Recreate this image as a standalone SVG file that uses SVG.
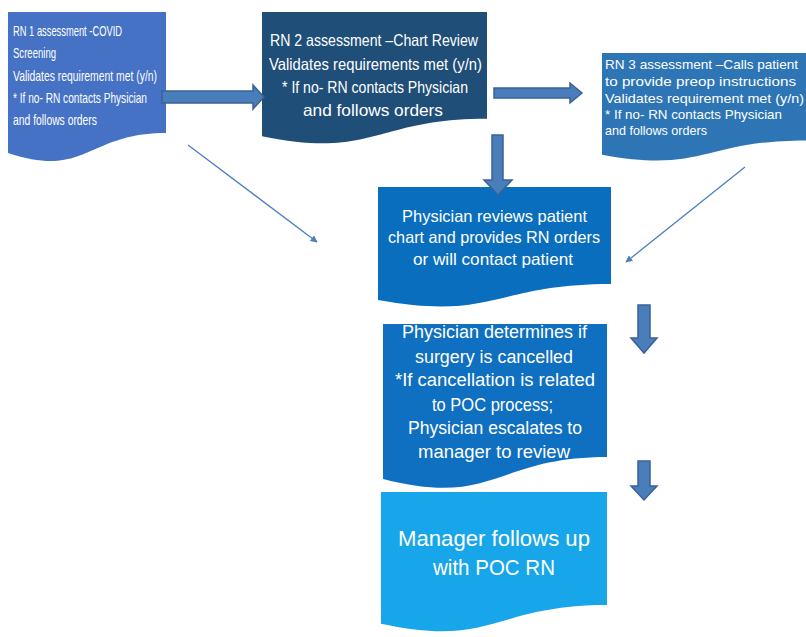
<svg xmlns="http://www.w3.org/2000/svg" width="806" height="637" viewBox="0 0 806 637">
<style>
  .t { font-family: "Liberation Sans", Arial, sans-serif; fill: #ffffff; }
  .c { text-anchor: middle; }
  .blk { fill: #4A7EBB; stroke: #3A6296; stroke-width: 1.5; }
  .thin { stroke: #4A7EBB; stroke-width: 1.3; fill: none; marker-end: url(#ah); }
</style>
<defs>
  <marker id="ah" viewBox="0 0 10 10" refX="9" refY="5" markerWidth="7" markerHeight="7" orient="auto" markerUnits="userSpaceOnUse">
    <path d="M0,0 L10,5 L0,10 z" fill="#4A7EBB"/>
  </marker>
</defs>
<rect width="806" height="637" fill="#ffffff"/>

<g id="node-rn1">
  <path d="M8,12 H166 V133.1 C87,133.1 87,179.2 8,153 Z" fill="#4672C6"/>
  <g class="t" font-size="15">
    <text x="13" y="36" textLength="109" lengthAdjust="spacingAndGlyphs">RN 1 assessment -COVID</text>
    <text x="13" y="58" textLength="43" lengthAdjust="spacingAndGlyphs">Screening</text>
    <text x="13" y="81" textLength="144" lengthAdjust="spacingAndGlyphs">Validates requirement met (y/n)</text>
    <text x="13" y="103" textLength="134" lengthAdjust="spacingAndGlyphs">* If no- RN contacts Physician</text>
    <text x="13" y="125" textLength="84" lengthAdjust="spacingAndGlyphs">and follows orders</text>
  </g>
</g>

<g id="node-rn2">
  <path d="M262,12 H487 V118.7 C374.5,118.7 374.5,159.2 262,136.2 Z" fill="#1F4E79"/>
  <g class="t" font-size="16.5">
    <text x="270" y="46" textLength="208" lengthAdjust="spacingAndGlyphs">RN 2  assessment –Chart Review</text>
    <text x="269" y="70" textLength="213" lengthAdjust="spacingAndGlyphs">Validates requirements met (y/n)</text>
    <text x="282" y="93" textLength="186" lengthAdjust="spacingAndGlyphs">* If no- RN contacts Physician</text>
    <text x="303" y="116" textLength="140" lengthAdjust="spacingAndGlyphs">and follows orders</text>
  </g>
</g>

<g id="node-rn3">
  <path d="M602,53 H806 V140.4 C704,140.4 704,173.7 602,154.8 Z" fill="#2E75B6"/>
  <g class="t" font-size="13.5">
    <text x="605" y="69" textLength="193" lengthAdjust="spacingAndGlyphs">RN 3 assessment –Calls patient</text>
    <text x="605" y="86" textLength="191" lengthAdjust="spacingAndGlyphs">to provide preop instructions</text>
    <text x="605" y="103" textLength="199" lengthAdjust="spacingAndGlyphs">Validates requirement met (y/n)</text>
    <text x="605" y="119" textLength="177" lengthAdjust="spacingAndGlyphs">* If no- RN contacts Physician</text>
    <text x="605" y="135" textLength="102" lengthAdjust="spacingAndGlyphs">and follows orders</text>
  </g>
</g>

<g id="node-physician-review">
  <path d="M378,187 H611 V284 C494.5,284 494.5,321 378,300 Z" fill="#0A6EBF"/>
  <g class="t" font-size="16.5">
    <text x="402" y="222" textLength="185" lengthAdjust="spacingAndGlyphs">Physician reviews patient</text>
    <text x="388" y="243" textLength="212" lengthAdjust="spacingAndGlyphs">chart and provides RN orders</text>
    <text x="413" y="265" textLength="160" lengthAdjust="spacingAndGlyphs">or will contact patient</text>
  </g>
</g>

<g id="node-physician-determines">
  <path d="M383,324 H607 V457.1 C495,457.1 495,507.8 383,479 Z" fill="#0F6FC0"/>
  <g class="t" font-size="18">
    <text x="402" y="338" textLength="185" lengthAdjust="spacingAndGlyphs">Physician determines if</text>
    <text x="415" y="363" textLength="158" lengthAdjust="spacingAndGlyphs">surgery is cancelled</text>
    <text x="395" y="386" textLength="200" lengthAdjust="spacingAndGlyphs">*If cancellation is related</text>
    <text x="432" y="411" textLength="121" lengthAdjust="spacingAndGlyphs">to POC process;</text>
    <text x="408" y="434" textLength="174" lengthAdjust="spacingAndGlyphs">Physician escalates to</text>
    <text x="418" y="458" textLength="152" lengthAdjust="spacingAndGlyphs">manager to review</text>
  </g>
</g>

<g id="node-manager">
  <path d="M381,492 H607 V605.1 C494,605.1 494,648.1 381,623.7 Z" fill="#18A6EA"/>
  <g class="t" font-size="22">
    <text x="398" y="546" textLength="192" lengthAdjust="spacingAndGlyphs">Manager follows up</text>
    <text x="433" y="575" textLength="122" lengthAdjust="spacingAndGlyphs">with POC RN</text>
  </g>
</g>

<g id="connectors">
  <polygon class="blk" points="162,91 253,91 253,85 264,97 253,109 253,103 162,103"/>
  <polygon class="blk" points="494,88 570,88 570,83 582,93 570,103 570,98 494,98"/>
  <polygon class="blk" points="492,135 503,135 503,180 512,180 498,195 484,180 492,180"/>
  <polygon class="blk" points="638,305 650,305 650,338 657,338 644,353 631,338 638,338"/>
  <polygon class="blk" points="638,461 650,461 650,486 657,486 644,500 631,486 638,486"/>
  <line class="thin" x1="188" y1="145" x2="317" y2="242"/>
  <line class="thin" x1="745" y1="167" x2="626" y2="262"/>
</g>
</svg>
